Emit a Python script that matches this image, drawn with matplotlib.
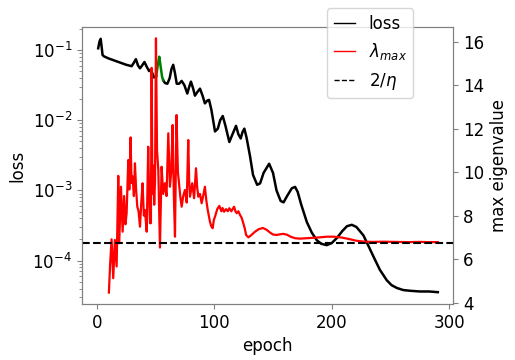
import matplotlib
matplotlib.use("Agg")
import matplotlib.pyplot as plt
import numpy as np
from matplotlib.lines import Line2D

# loss curve (epoch, log10 loss)
loss_epoch = [1.1, 2.2, 3.2, 4.0, 4.8, 6, 10, 15, 20, 25, 29.6, 31.5, 33.2, 35, 36.7,
              38.5, 40.5, 42.5, 44.5, 45.7, 47, 48.6, 50.5]
loss_log = [-0.975, -0.88, -0.84, -0.95, -1.07, -1.09, -1.12, -1.15, -1.18, -1.21, -1.23,
            -1.18, -1.13, -1.22, -1.26, -1.22, -1.17, -1.24, -1.30, -1.28, -1.32, -1.39, -1.37]

# part of the loss drawn in green
green_epoch = [50.5, 52, 53.1, 54, 55.5, 56.5]
green_log = [-1.37, -1.2, -1.095, -1.2, -1.38, -1.43]

loss2_epoch = [56.5, 58, 60, 62, 63.5, 65, 66.5, 68, 70, 72.2, 74.5, 77, 78.5, 80.1, 82,
               83.5, 85.5, 87.8, 90, 92, 94, 95.5, 97.5, 100.6, 103, 105, 107.2, 109.5,
               112.8, 115.5, 118.5, 120.5, 122.5, 124, 125.6, 127.5, 130.4, 133, 136.5,
               139, 142, 146.7, 150, 153, 156.5, 159, 162, 166, 168.8, 171, 174, 178.8,
               183, 187.3, 191, 195.8, 200, 204.3, 209, 213, 217.1, 221, 224, 227, 231,
               235.5, 241, 246.9, 251, 255.5, 261, 266.8, 275, 283, 290.4]
loss2_log = [-1.43, -1.47, -1.48, -1.40, -1.27, -1.21, -1.33, -1.48, -1.48, -1.44, -1.50,
             -1.62, -1.53, -1.45, -1.55, -1.65, -1.60, -1.55, -1.65, -1.76, -1.72, -1.71,
             -1.85, -2.16, -2.12, -2.00, -1.94, -2.08, -2.31, -2.20, -2.08, -2.20, -2.26,
             -2.17, -2.12, -2.25, -2.51, -2.78, -2.92, -2.90, -2.75, -2.62, -2.75, -3.00,
             -3.15, -3.17, -3.08, -2.97, -2.95, -3.02, -3.20, -3.45, -3.60, -3.71, -3.76,
             -3.78, -3.75, -3.68, -3.58, -3.51, -3.49, -3.52, -3.58, -3.64, -3.78, -3.94,
             -4.13, -4.28, -4.35, -4.39, -4.42, -4.43, -4.44, -4.44, -4.45]

# max eigenvalue
eig_epoch = [10.2, 11.3, 12.5, 13.9, 15.3, 16.8, 18.2, 19.0, 20.5, 21.9, 23.2, 24.3, 25.3,
             26.7, 27.6, 28.7, 29.5, 30.4, 31.5, 32.4, 33.4, 34.4, 35.5, 36.7, 37.8, 38.9,
             40.0, 40.9, 42.4, 43.7, 44.5, 45.2, 46.0, 46.6, 47.3, 48.0, 48.8, 49.5, 50.3,
             51.2, 52.3, 53.7, 55.1, 56.5, 58.0, 59.3, 60.8, 62.2, 63.3, 64.5, 65.5, 66.5,
             67.8, 69.0, 70.2, 71.2, 72.2, 73.5, 75.0, 76.5, 77.8, 78.6, 79.3, 81.2, 82.8,
             84.4, 85.4, 86.4, 87.8, 89.2, 90.5, 92.0, 93.2, 94.4, 96.3, 97.5, 98.6, 99.6,
             100.6, 102.5, 104.3, 106, 107, 108.3, 110, 111.5, 112.8, 114.5, 116.8, 118,
             119.1, 120.5, 121.9, 123.3, 124.7, 126, 127.1, 129, 131, 134.7, 138, 141.5,
             144.5, 147.5, 150, 153.2, 156, 158.8, 162, 165, 168.8, 173, 178.8, 185, 190,
             195.8, 202, 208.6, 215, 221.3, 228, 235, 244, 255, 265, 275, 283, 290.4]
eig_val = [4.46, 5.8, 6.91, 5.12, 6.88, 5.66, 9.83, 6.73, 9.33, 7.26, 8.9, 7.6, 8.1,
           10.56, 9.2, 11.6, 9.5, 9.8, 8.9, 10.41, 9.2, 8.41, 8.2, 7.49, 8.6, 9.49,
           8.0, 8.26, 7.26, 11.17, 9.0, 7.65, 7.65, 14.8, 9.0, 10.3, 8.5, 9.6, 16.16,
           11.0, 10.1, 6.53, 10.25, 9.0, 9.49, 8.9, 11.79, 9.33, 10.0, 12.17, 9.0, 7.03,
           12.63, 10.0, 9.33, 8.8, 8.41, 8.9, 9.18, 8.6, 11.48, 9.6, 8.87, 9.49, 8.8,
           10.18, 9.3, 8.87, 9.0, 8.57, 8.9, 9.33, 8.7, 8.26, 7.72, 7.5, 7.42, 7.8,
           7.95, 8.3, 8.45, 8.2, 8.35, 8.18, 8.3, 8.2, 8.34, 8.2, 8.41, 8.2,
           8.11, 8.2, 8.03, 7.9, 7.65, 7.4, 7.11, 7.0, 7.08, 7.26, 7.38, 7.43,
           7.35, 7.22, 7.13, 7.11, 7.14, 7.16, 7.12, 7.03, 6.96, 6.94, 6.96, 6.98, 7.0,
           7.03, 7.03, 6.99, 6.92, 6.84, 6.80, 6.79, 6.80, 6.79, 6.78, 6.79, 6.78, 6.78]

two_over_eta = 6.76

plt.rcParams["axes.edgecolor"] = "gray"

fig = plt.figure(figsize=(5.15, 3.6), dpi=100)
ax = fig.add_axes([0.159, 0.156, 0.721, 0.769])
ax2 = ax.twinx()

ax.plot(loss_epoch, 10 ** np.array(loss_log), color="k", lw=1.8)
ax.plot(loss2_epoch, 10 ** np.array(loss2_log), color="k", lw=1.8)
ax.plot(green_epoch, 10 ** np.array(green_log), color="green", lw=1.8)
ax.set_yscale("log")
ax.set_ylim(2.42e-5, 0.213)
ax.set_xlim(-12.8, 303.5)

ax2.plot(eig_epoch, eig_val, color="red", lw=1.6)
ax2.axhline(two_over_eta, color="k", ls="--", lw=1.5)
ax2.set_ylim(3.94, 16.68)

ax.set_xlabel("epoch", fontsize=12)
ax.set_ylabel("loss", fontsize=12)
ax2.set_ylabel("max eigenvalue", fontsize=12)
for a in (ax, ax2):
    a.tick_params(which="both", labelsize=12, color="gray", labelcolor="black")
ax.set_xticks([0, 100, 200, 300])

handles = [
    Line2D([], [], color="k", lw=1.0),
    Line2D([], [], color="red", lw=1.0),
    Line2D([], [], color="k", lw=1.0, ls="--"),
]
fig.legend(handles, ["loss", r"$\lambda_{max}$", r"$2/\eta$"],
           loc="upper left", bbox_to_anchor=(0.619, 1.0), fontsize=12,
           handlelength=1.3)

fig.savefig("out.png", dpi=100)
